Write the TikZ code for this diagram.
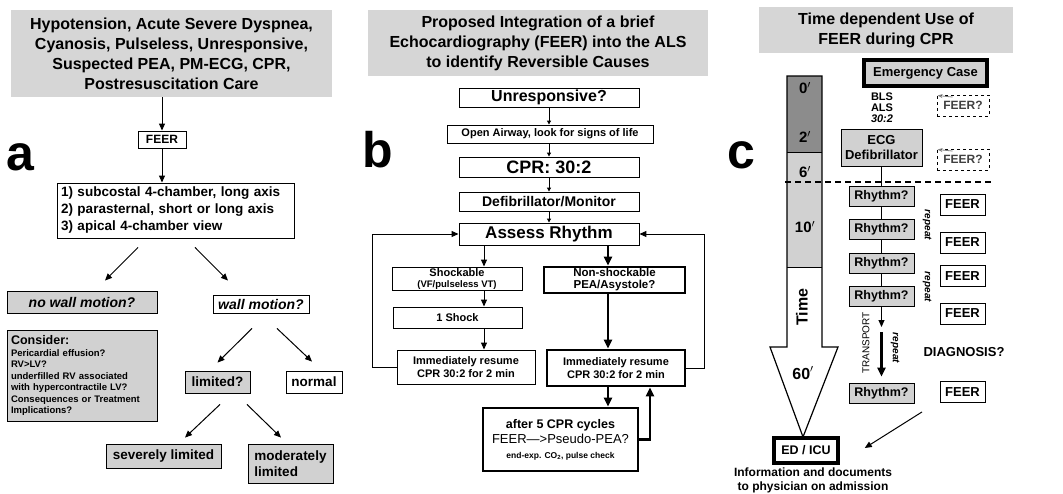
\documentclass[tikz,border=0pt]{standalone}
\usepackage{fontspec}
\setmainfont{Liberation Sans}
\usetikzlibrary{arrows.meta}
\definecolor{titlegray}{gray}{0.84}
\definecolor{boxgray}{gray}{0.82}
\definecolor{darkcol}{gray}{0.55}
\newcommand{\fsz}[2]{\fontsize{#1}{#2}\selectfont}

\begin{document}
\begin{tikzpicture}[x=1pt, y=-1pt,
	box/.style={draw, line width=0.9pt, inner sep=1pt, align=center},
	graybox/.style={box, fill=boxgray},
	heavybox/.style={box, line width=2.6pt},
	titlebox/.style={fill=titlegray, inner sep=0pt, align=center, font=\bfseries\fsz{16}{20}},
	panel/.style={anchor=base west, inner sep=0pt, font=\bfseries\fsz{50}{50}},
	arr/.style={-{Triangle[length=7pt,width=6pt]}, line width=1pt},
	smallarr/.style={-{Triangle[length=4pt,width=4pt]}, line width=1pt},
	bigarr/.style={-{Triangle[length=9pt,width=8pt]}, line width=2.6pt},
	]
	\useasboundingbox (0,0) rectangle (1063,493);
	\node[titlebox, minimum width=321pt, minimum height=87pt] (titleA) at (171.5,53.5) {Hypotension, Acute Severe Dyspnea,\\Cyanosis, Pulseless, Unresponsive,\\Suspected PEA, PM-ECG, CPR,\\Postresuscitation Care};
	\node[panel] (panelA) at (6,170) {a};
	\node[box, minimum width=48pt, minimum height=17pt, font=\bfseries\fsz{12}{14}] (feerA) at (162,139.5) {FEER};
	\node[box, minimum width=237pt, minimum height=55pt, text width=229pt, align=left, font=\bfseries\fsz{13.5}{17}] (viewsA) at (175.5,210.5) {1) subcostal 4-chamber, long axis\\2) parasternal, short or long axis\\3) apical 4-chamber view};
	\node[graybox, minimum width=150pt, minimum height=22pt, font=\bfseries\itshape\fsz{14}{16}] (nowall) at (82,302) {no wall motion?};
	\node[box, minimum width=96pt, minimum height=18pt, font=\bfseries\itshape\fsz{14}{16}] (wall) at (261,304) {wall motion?};
	\node[graybox, minimum width=150pt, minimum height=91pt, text width=142pt, align=left, font=\bfseries\fsz{9.5}{11.5}] (consider) at (82,375.5) {{\fsz{12.5}{13}Consider:}\\Pericardial effusion?\\RV>LV?\\underfilled RV associated\\with hypercontractile LV?\\Consequences or Treatment\\Implications?};
	\node[graybox, minimum width=65pt, minimum height=22pt, font=\bfseries\fsz{13.5}{16}] (limited) at (217.5,382) {limited?};
	\node[box, minimum width=56pt, minimum height=22pt, font=\bfseries\fsz{13.5}{16}] (normal) at (314,382) {normal};
	\node[graybox, minimum width=115pt, minimum height=24pt, font=\bfseries\fsz{13.5}{16}] (severe) at (163.5,456) {severely limited};
	\node[graybox, minimum width=85pt, minimum height=39pt, align=left, font=\bfseries\fsz{13.5}{16}] (moderate) at (290.5,463.5) {moderately\\limited};
	\draw[arr] (titleA.south -| feerA.north) -- (feerA.north);
	\draw[arr] (feerA.south) -- (feerA.south |- viewsA.north);
	\draw[arr] ([xshift=-37.5pt,yshift=-9pt]viewsA.south) -- ([xshift=23pt,yshift=10pt]nowall.north);
	\draw[arr] ([xshift=19.5pt,yshift=-9pt]viewsA.south) -- ([xshift=-33pt,yshift=14pt]wall.north);
	\draw[arr] ([xshift=-9pt,yshift=-15pt]wall.south) -- ([yshift=8pt]limited.north);
	\draw[arr] ([xshift=16pt,yshift=-15pt]wall.south) -- ([xshift=-2pt,yshift=9pt]normal.north);
	\draw[arr] ([xshift=2.5pt,yshift=-11pt]limited.south) -- ([xshift=21.5pt,yshift=6pt]severe.north);
	\draw[arr] ([xshift=29.5pt,yshift=-11pt]limited.south) -- ([xshift=-9.5pt,yshift=6pt]moderate.north);

	\node[titlebox, minimum width=340pt, minimum height=66pt] (titleB) at (538,43) {Proposed Integration of a brief\\Echocardiography (FEER) into the ALS\\to identify Reversible Causes};
	\node[panel] (panelB) at (362,167) {b};
	\node[box, minimum width=180pt, minimum height=19pt, inner sep=0pt, font=\bfseries\fsz{16}{18}] (unresp) at (549,97.5) {Unresponsive?};
	\node[box, minimum width=206pt, minimum height=18pt, font=\bfseries\fsz{11}{12}] (airway) at (550,134) {Open Airway, look for signs of life};
	\node[box, minimum width=180pt, minimum height=20pt, inner sep=0pt, font=\bfseries\fsz{18}{18}] (cpr) at (549,167) {CPR: 30:2};
	\node[box, minimum width=180pt, minimum height=19pt, inner sep=0pt, font=\bfseries\fsz{14}{16}] (defib) at (549,201.5) {Defibrillator/Monitor};
	\node[box, minimum width=180pt, minimum height=22pt, inner sep=0pt, font=\bfseries\fsz{17}{18}] (assess) at (549,234) {Assess Rhythm};
	\node[box, minimum width=130pt, minimum height=23pt, inner sep=0pt, font=\bfseries\fsz{11}{11}] (shock) at (457,278.5) {Shockable\\{\fsz{9.5}{10}(VF/pulseless VT)}};
	\node[heavybox, minimum width=141pt, minimum height=26pt, inner sep=0pt, font=\bfseries\fsz{11.5}{12}] (nonshock) at (614.5,280) {Non-shockable\\PEA/Asystole?};
	\node[box, minimum width=129pt, minimum height=21pt, font=\bfseries\fsz{11}{13}] (oneshock) at (457.5,317.5) {1 Shock};
	\node[box, minimum width=138pt, minimum height=34pt, font=\bfseries\fsz{11}{13.5}] (resumeL) at (466,367) {Immediately resume\\CPR 30:2 for 2 min};
	\node[heavybox, minimum width=138pt, minimum height=36pt, font=\bfseries\fsz{11}{13.5}] (resumeR) at (616,368) {Immediately resume\\CPR 30:2 for 2 min};
	\node[heavybox, minimum width=155pt, minimum height=63pt, font=\bfseries\fsz{12.5}{15}] (after) at (560.5,439.5) {after 5 CPR cycles\\{\mdseries\fsz{13}{15}FEER\textemdash{}>Pseudo-PEA?}\\{\fsz{8.5}{10}end-exp. CO\textsubscript{2}, pulse check}};
	\draw[smallarr] (unresp.south) -- (unresp.south |- airway.north);
	\draw[smallarr] (unresp.south |- airway.south) -- (cpr.north);
	\draw[smallarr] (cpr.south) -- (defib.north);
	\draw[smallarr] (defib.south) -- (assess.north);
	\draw[arr] ([xshift=-65pt]assess.south) -- ([xshift=27pt]shock.north);
	\draw[bigarr] ([xshift=59pt]assess.south) -- ([xshift=-6.5pt]nonshock.north);
	\draw[arr] ([xshift=27pt]shock.south) -- ([xshift=26.5pt]oneshock.north);
	\draw[arr] ([xshift=26.5pt]oneshock.south) -- ([xshift=18pt]resumeL.north);
	\draw[bigarr] ([xshift=-6.5pt]nonshock.south) -- ([xshift=-8pt]resumeR.north);
	\draw[bigarr] ([xshift=-8pt]resumeR.south) -- ([xshift=47.5pt]after.north);
	\draw[bigarr] (after.east) -| ([xshift=34pt]resumeR.south);
	\draw[arr] (resumeL.west) -- ++(-24,0) |- (assess.west);
	\draw[arr] (resumeR.east) -- ++(18,0) |- (assess.east);

	\node[titlebox, minimum width=254pt, minimum height=46pt] (titleC) at (886,30) {Time dependent Use of\\FEER during CPR};
	\node[panel] (panelC) at (727,168) {c};
	\fill[darkcol] (787,76) rectangle (822,152);
	\fill[boxgray] (787,152) rectangle (822,267);
	\draw[line width=1pt] (787,152) -- (822,152);
	\draw[line width=1pt] (787,267) -- (822,267);
	\draw[line width=1.2pt] (787,76) -- (822,76) -- (822,347) -- (838,347) -- (803,437) -- (770,347) -- (787,347) -- cycle;
	\node[font=\bfseries\fsz{15}{15}] (tA) at (805,88) {0$'$};
	\node[font=\bfseries\fsz{15}{15}] (tB) at (805,137) {2$'$};
	\node[font=\bfseries\fsz{15}{15}] (tC) at (805,172) {6$'$};
	\node[font=\bfseries\fsz{15}{15}] (tD) at (805,227) {10$'$};
	\node[font=\bfseries\fsz{16}{16}, rotate=90] (timeLbl) at (802,307) {Time};
	\node[font=\bfseries\fsz{16}{16}] (tE) at (803,373) {60$'$};
	\draw[line width=1.3pt, dash pattern=on 6pt off 4pt] (785,182) -- (993,182);
	\node[heavybox, line width=3.5pt, fill=boxgray, minimum width=123pt, minimum height=26pt, font=\bfseries\fsz{13}{15}] (emerg) at (925.5,73) {Emergency Case};
	\node[align=center, inner sep=0pt, font=\bfseries\fsz{11}{11}] (bls) at (882,108) {BLS\\ALS\\\textit{30:2}};
	\node[box, dashed, text=black!75, minimum width=52pt, minimum height=21pt, font=\bfseries\fsz{12}{14}] (feerQA) at (963,105.5) {FEER?};
	\node[box, dashed, text=black!75, minimum width=52pt, minimum height=21pt, font=\bfseries\fsz{12}{14}] (feerQB) at (963,159.5) {FEER?};
	\draw[gray, line width=0.8pt, -{Stealth[length=5pt,width=4pt]}] ([xshift=16pt,yshift=-2.5pt]feerQA.north west) -- ([xshift=1pt,yshift=-1pt]feerQA.north west);
	\draw[gray, line width=0.8pt, -{Stealth[length=5pt,width=4pt]}] ([xshift=16pt,yshift=-2.5pt]feerQB.north west) -- ([xshift=1pt,yshift=-1pt]feerQB.north west);
	\node[graybox, minimum width=81pt, minimum height=37pt, inner sep=0pt, font=\bfseries\fsz{13}{15}] (ecg) at (881.5,147.5) {ECG\\Defibrillator};
	\node[graybox, minimum width=65pt, minimum height=20pt, font=\bfseries\fsz{12.5}{14}] (rhythmA) at (881.5,196) {Rhythm?};
	\node[graybox, minimum width=65pt, minimum height=20pt, font=\bfseries\fsz{12.5}{14}] (rhythmB) at (881.5,229.5) {Rhythm?};
	\node[graybox, minimum width=65pt, minimum height=20pt, font=\bfseries\fsz{12.5}{14}] (rhythmC) at (881.5,263) {Rhythm?};
	\node[graybox, minimum width=65pt, minimum height=20pt, font=\bfseries\fsz{12.5}{14}] (rhythmD) at (881.5,296.5) {Rhythm?};
	\node[graybox, minimum width=65pt, minimum height=20pt, font=\bfseries\fsz{12.5}{14}] (rhythmE) at (881.5,393) {Rhythm?};
	\node[box, minimum width=45pt, minimum height=21pt, font=\bfseries\fsz{13}{15}] (feerBA) at (962.5,204.5) {FEER};
	\node[box, minimum width=45pt, minimum height=21pt, font=\bfseries\fsz{13}{15}] (feerBB) at (962.5,242.5) {FEER};
	\node[box, minimum width=45pt, minimum height=21pt, font=\bfseries\fsz{13}{15}] (feerBC) at (962.5,276) {FEER};
	\node[box, minimum width=45pt, minimum height=21pt, font=\bfseries\fsz{13}{15}] (feerBD) at (962.5,313.5) {FEER};
	\node[box, minimum width=45pt, minimum height=21pt, font=\bfseries\fsz{13}{15}] (feerBE) at (962.5,392) {FEER};
	\draw[line width=1pt] (ecg.south) -- (rhythmA.north);
	\draw[line width=1pt] (rhythmA.south) -- (rhythmB.north);
	\draw[line width=1pt] (rhythmB.south) -- (rhythmC.north);
	\draw[line width=1pt] (rhythmC.south) -- (rhythmD.north);
	\coordinate (transA) at (881.5,327);
	\coordinate (transB) at (881.5,332);
	\draw[arr] (rhythmD.south) -- (transA);
	\draw[bigarr] (transB) -- ([yshift=6pt]rhythmE.north);
	\node[font=\mdseries\fsz{10}{10}, rotate=90] (transport) at (866,343) {TRANSPORT};
	\node[font=\bfseries\itshape\fsz{10}{10}, rotate=-90] (repeatA) at (927,225) {repeat};
	\node[font=\bfseries\itshape\fsz{10}{10}, rotate=-90] (repeatB) at (927,287) {repeat};
	\node[font=\bfseries\itshape\fsz{10}{10}, rotate=-90] (repeatC) at (895,348) {repeat};
	\node[font=\bfseries\fsz{13}{15}] (diag) at (964,352) {DIAGNOSIS?};
	\node[heavybox, line width=3.5pt, minimum width=64pt, minimum height=25pt, font=\bfseries\fsz{12.5}{14}] (edu) at (806,450.5) {ED / ICU};
	\draw[arr] ([xshift=-40.5pt,yshift=-9pt]feerBE.south) -- ([xshift=25pt,yshift=2.5pt]edu.east);
	\node[align=center, inner sep=0pt, font=\bfseries\fsz{12}{14}] (info) at (813,480) {Information and documents\\to physician on admission};
\end{tikzpicture}
\end{document}
